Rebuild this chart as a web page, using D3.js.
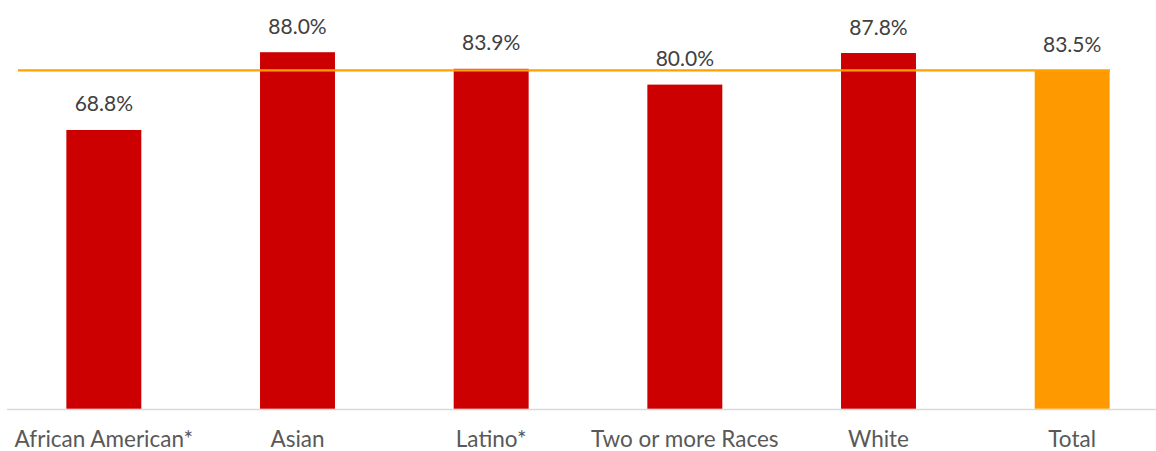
<!DOCTYPE html>
<html><head><meta charset="utf-8">
<script src="https://cdn.jsdelivr.net/npm/d3@7"></script>
<style>body{margin:0;background:#fff;}svg{display:block;}</style>
</head><body>
<svg id="c" width="1156" height="451"></svg>
<script>
const categories = ["African American*", "Asian", "Latino*", "Two or more Races", "White", "Total"];
const values = [68.8, 88.0, 83.9, 80.0, 87.8, 83.5];
const totalLine = 83.5;
const yDomain = [0, 100];

const svg = d3.select("#c");
const x = d3.scaleBand().domain(categories).range([7, 1169]).paddingInner(0.613).paddingOuter(0.3065);
const y = d3.scaleLinear().domain(yDomain).range([408.7, 3.6]);
const font = "Lato, 'Open Sans', sans-serif";

svg.append("line").attr("x1", 7).attr("x2", 1156).attr("y1", 409.5).attr("y2", 409.5)
  .attr("stroke", "#d9d9d9").attr("stroke-width", 1.5);

svg.selectAll("rect.bar").data(categories).join("rect")
  .attr("x", d => x(d)).attr("width", x.bandwidth())
  .attr("y", (d, i) => y(values[i])).attr("height", (d, i) => y(0) - y(values[i]))
  .attr("fill", d => d === "Total" ? "#ff9900" : "#cc0000");

svg.append("line").attr("x1", 18).attr("x2", 1110)
  .attr("y1", y(totalLine)).attr("y2", y(totalLine))
  .attr("stroke", "#ffa000").attr("stroke-width", 2.2);

svg.selectAll("text.val").data(categories).join("text")
  .attr("x", d => x(d) + x.bandwidth() / 2).attr("y", (d, i) => y(values[i]) - 18.5)
  .attr("text-anchor", "middle").attr("font-family", font).attr("font-size", 21)
  .attr("fill", "#404040").text((d, i) => values[i].toFixed(1) + "%");

svg.selectAll("text.cat").data(categories).join("text")
  .attr("x", d => x(d) + x.bandwidth() / 2).attr("y", 447)
  .attr("text-anchor", "middle").attr("font-family", font).attr("font-size", 22.5)
  .attr("fill", "#595959").text(d => d);
</script>
</body></html>
